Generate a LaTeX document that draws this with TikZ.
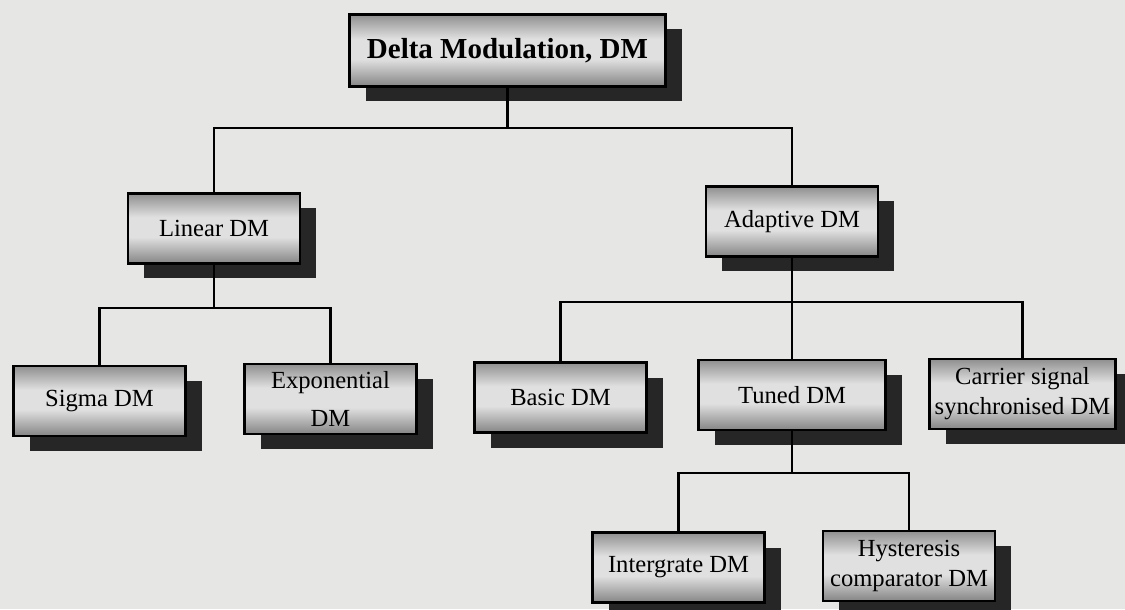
\documentclass[tikz,border=0pt]{standalone}
\usepackage{fontspec}
\setmainfont{Liberation Serif}
\usetikzlibrary{shadows}
\definecolor{paper}{RGB}{230,230,228}
\pgfdeclareverticalshading{boxgrain}{100bp}{color(0bp)=(black!48); color(25bp)=(black!48); color(44bp)=(black!12); color(58bp)=(black!12); color(75bp)=(black!44); color(100bp)=(black!44)}

\begin{document}
\begin{tikzpicture}[
    dmbox/.style={draw=black, line width=1.6pt, shade, shading=boxgrain,
        minimum width=3.44cm, minimum height=1.4cm, inner sep=2pt, align=center,
        font=\fontsize{14}{17}\selectfont,
        drop shadow={shadow xshift=0.32cm, shadow yshift=-0.3cm, opacity=1, fill=black!85}},
    link/.style={line width=1.6pt}
]
    \useasboundingbox (0, 0) rectangle (22.5, 12.18);
    \fill[paper] (0, 0) rectangle (22.5, 12.18);

    \node[dmbox, minimum width=6.32cm, minimum height=1.44cm, font=\fontsize{16.5}{20}\selectfont\bfseries] (root) at (10.15, 11.17) {Delta Modulation, DM};
    \node[dmbox] (linear) at (4.28, 7.61) {Linear DM};
    \node[dmbox] (adaptive) at (15.84, 7.75) {Adaptive DM};

    \node[dmbox] (sigma) at (1.99, 4.16) {Sigma DM};
    \node[dmbox] (expo) at (6.61, 4.2) {Exponential\\[5pt]DM};
    \node[dmbox] (basic) at (11.21, 4.23) {Basic DM};
    \node[dmbox, minimum width=3.74cm] (tuned) at (15.84, 4.28) {Tuned DM};
    \node[dmbox, minimum width=3.72cm] (carrier) at (20.45, 4.3) {Carrier signal\\synchronised DM};

    \node[dmbox] (integ) at (13.57, 0.83) {Intergrate DM};
    \node[dmbox] (hyst) at (18.18, 0.86) {Hysteresis\\comparator DM};

    % bus levels
    \coordinate (busTop) at (0, 9.62);
    \coordinate (busLin) at (0, 6.02);
    \coordinate (busAda) at (0, 6.14);
    \coordinate (busTun) at (0, 2.72);

    \draw[link] (root.south) -- (root.south |- busTop);
    \draw[link] (linear.north) |- (adaptive.north |- busTop) -- (adaptive.north);

    \draw[link] (linear.south) -- (linear.south |- busLin);
    \draw[link] (sigma.north) |- (expo.north |- busLin) -- (expo.north);

    \draw[link] (adaptive.south) -- (tuned.north);
    \draw[link] (basic.north) |- (carrier.north |- busAda) -- (carrier.north);

    \draw[link] (tuned.south) -- (tuned.south |- busTun);
    \draw[link] (integ.north) |- (hyst.north |- busTun) -- (hyst.north);
\end{tikzpicture}
\end{document}
